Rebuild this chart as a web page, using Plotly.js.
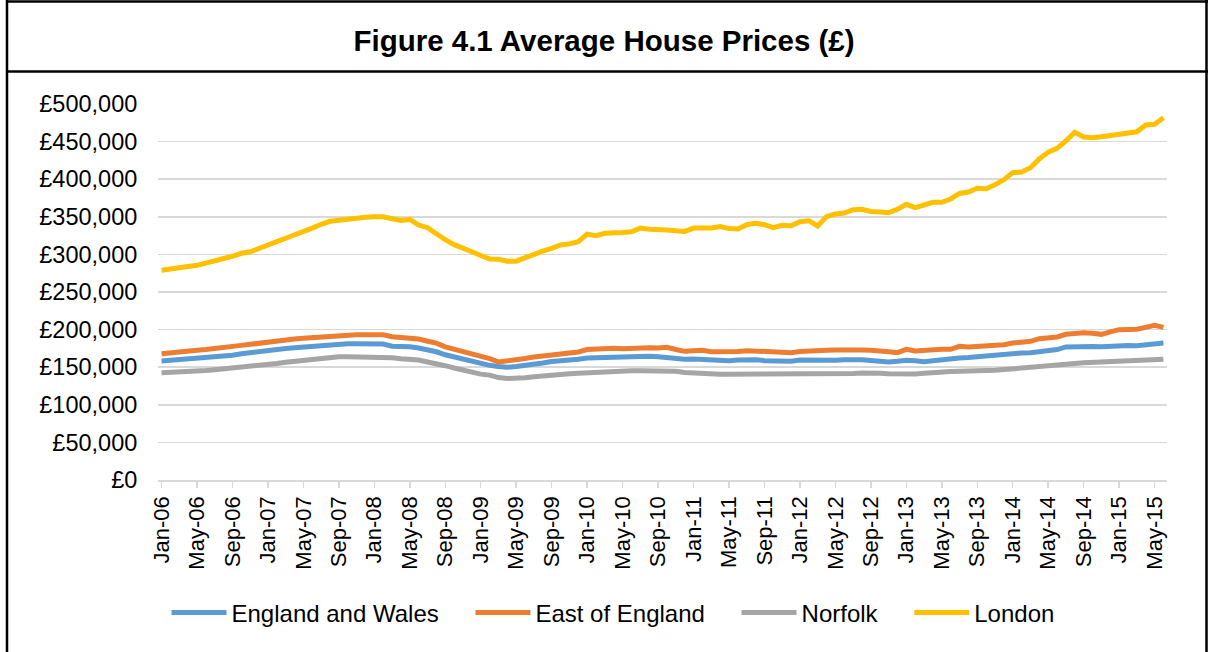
<!DOCTYPE html>
<html>
<head>
<meta charset="utf-8">
<script src="https://cdn.plot.ly/plotly-3.0.1.min.js"></script>
<style>
  html, body { margin: 0; padding: 0; background: #fff; }
  #chart { width: 1208px; height: 652px; }
</style>
</head>
<body>
<div id="chart"></div>
<script>
const months = [
  "Jan-06","Feb-06","Mar-06","Apr-06","May-06","Jun-06","Jul-06","Aug-06","Sep-06","Oct-06","Nov-06","Dec-06",
  "Jan-07","Feb-07","Mar-07","Apr-07","May-07","Jun-07","Jul-07","Aug-07","Sep-07","Oct-07","Nov-07","Dec-07",
  "Jan-08","Feb-08","Mar-08","Apr-08","May-08","Jun-08","Jul-08","Aug-08","Sep-08","Oct-08","Nov-08","Dec-08",
  "Jan-09","Feb-09","Mar-09","Apr-09","May-09","Jun-09","Jul-09","Aug-09","Sep-09","Oct-09","Nov-09","Dec-09",
  "Jan-10","Feb-10","Mar-10","Apr-10","May-10","Jun-10","Jul-10","Aug-10","Sep-10","Oct-10","Nov-10","Dec-10",
  "Jan-11","Feb-11","Mar-11","Apr-11","May-11","Jun-11","Jul-11","Aug-11","Sep-11","Oct-11","Nov-11","Dec-11",
  "Jan-12","Feb-12","Mar-12","Apr-12","May-12","Jun-12","Jul-12","Aug-12","Sep-12","Oct-12","Nov-12","Dec-12",
  "Jan-13","Feb-13","Mar-13","Apr-13","May-13","Jun-13","Jul-13","Aug-13","Sep-13","Oct-13","Nov-13","Dec-13",
  "Jan-14","Feb-14","Mar-14","Apr-14","May-14","Jun-14","Jul-14","Aug-14","Sep-14","Oct-14","Nov-14","Dec-14",
  "Jan-15","Feb-15","Mar-15","Apr-15","May-15","Jun-15"
];

const tickLabels = [
  "Jan-06","May-06","Sep-06","Jan-07","May-07","Sep-07","Jan-08","May-08","Sep-08",
  "Jan-09","May-09","Sep-09","Jan-10","May-10","Sep-10","Jan-11","May-11","Sep-11",
  "Jan-12","May-12","Sep-12","Jan-13","May-13","Sep-13","Jan-14","May-14","Sep-14",
  "Jan-15","May-15"
];

const seriesNames = ["England and Wales", "East of England", "Norfolk", "London"];

// values in £ thousands
const englandWales = [
  158.2,159,159.8,160.5,161.3,162.2,163.5,164.8,166,167.8,169.5,171,
  172.2,173.3,175,176,177,178.2,179,179.8,180.5,181.2,181.3,181.3,
  181.3,180.9,177.8,177.8,177.3,175.5,173.8,170.5,166.5,163.5,160,157.5,
  155,152.5,151,150,150.8,152,153.5,155.5,157.5,158,158.7,160.5,
  162.2,162.6,163.1,163.4,163.8,164.2,164.9,164.5,164,162.5,161,160.5,
  160.8,160.5,158.7,159,158.7,159.5,160.5,160,158.7,158.5,158,158,
  159.6,159.3,158.5,158.7,159.3,160,160.5,160,159,157.8,156.9,157.8,
  159.1,158.5,157.3,158.5,160,160.8,162.2,162.8,164,164,164.9,166.5,
  168.4,169,169.3,170.5,172,173.5,176.9,177.5,177.8,177.5,177.3,178.3,
  179.5,179,178.6,179.5,180.2,182.2
];

const eastOfEngland = [
  168,169.5,170.5,171.5,172.5,173.5,174.5,176,177.5,179,180.4,182,
  184,185,186.5,187.5,188.5,189.5,190.2,191,192.5,193.2,193.2,193.2,
  193.2,193,190.5,189.7,189.3,187.5,184.5,182,177,174,170,166.5,
  164,161.5,157,158,159.5,161.5,163.5,165,167,168,169.3,170.2,
  173.5,174,175.5,175.2,174.6,175.5,176.4,176,175.5,176.4,173.5,171.1,
  172,172.4,170.5,170.2,170.2,171,172,171.5,170.2,170,169.5,169.3,
  171,172,172.5,172.5,173,173.3,173.3,173,172.5,172,170.5,169.3,
  173.8,171.5,172.5,173.8,173.8,173.8,177.8,177,177.5,179.1,178.2,180,
  182.2,183.2,184.4,187.9,189,190.2,193.7,194.5,195.9,195,193.7,197,
  199.9,200.2,200.4,203,205.7,203
];

const norfolk = [
  142.7,143,143.3,143.6,144.5,145.5,146.5,147.5,148.7,150,151.2,152.5,
  153.8,155,156.5,157.8,159,160.5,162,163.2,164,164,164,164,
  164,164,162.5,161.3,160.8,159.5,157,155,152,148.9,146,142.3,
  140.8,139.5,136.2,135,134.8,136,137.3,138.6,139.7,140.5,141.4,142,
  142.7,143.6,144.5,145.4,145.4,145.4,145.4,145.4,145.4,145.4,144.5,143,
  142,141.4,140.6,140.5,140.5,140.5,140.5,140.6,140.8,141,141,141,
  141,141.2,141.3,141.4,140.5,141,141.7,142.2,142.7,142,141.4,141,
  141,141,142,143.2,143.7,144.3,144.6,144.6,145,145.4,145.9,146.8,
  147.6,148.5,149.5,150.5,151.7,152.9,153.8,154.8,156,156.5,156.9,156.9,
  156.9,157.5,158.7,159.5,160,160.5
];

const london = [
  279,281,283.5,284,285.5,288,291,294.5,297.5,301.5,303.5,307.5,
  312.5,317,321.5,325.5,330,335,340,344,345.5,347,349,349.5,
  350,350,347.5,345,346.5,339,335.5,327,319.5,313,307.5,303.5,
  298.5,294,293.5,291,291,296,300.5,304.5,308,312.5,314,317,
  327,325,328,328,329,330,335,333.5,333.8,332.5,331.5,330.5,
  335,334.8,335,336.9,334.3,333.8,339.5,341.3,339.5,335.6,338.6,338.2,
  343.5,344.8,337.8,350.2,353.7,355,359.5,360,357,356.5,355.5,360,
  366.6,362.2,366.6,369.3,369.3,373.7,381,383,387.9,387.4,392.7,399.3,
  408.7,409.6,415.3,426.9,436,441,451,462.4,456.1,455.2,456.5,458,
  460,461.5,463,472.1,473,481.8
];

const seriesValues = [englandWales, eastOfEngland, norfolk, london];
const seriesColors = ["#5B9BD5", "#ED7D31", "#A5A5A5", "#FFC000"];

const FONT = "Liberation Sans, Arial, sans-serif";
const LEGEND_PAD = "\u00A0\u00A0\u00A0\u00A0"; // extra spacing between legend entries

const traces = seriesNames.map((name, k) => ({
  type: "scatter",
  mode: "lines",
  name: k < seriesNames.length - 1 ? name + LEGEND_PAD : name,
  x: months,
  y: seriesValues[k].map(v => v * 1000),
  line: { color: seriesColors[k], width: 5, shape: "linear" },
  hoverinfo: "x+y+name"
}));

// frame helpers (pixel -> paper)
const L = 158, R = 41, T = 104, B = 172, W = 1208, H = 652;
const pw = W - L - R, ph = H - T - B;
const px = x => (x - L) / pw;
const py = y => (H - B - y) / ph;

const layout = {
  width: W,
  height: H,
  margin: { l: L, r: R, t: T, b: B, pad: 0 },
  paper_bgcolor: "#ffffff",
  plot_bgcolor: "#ffffff",
  font: { family: FONT, size: 22, color: "#000000" },
  title: {
    text: "<b>Figure 4.1 Average House Prices (£)</b>",
    font: { family: FONT, size: 29.5, color: "#000000" },
    x: 0.5, xref: "container", xanchor: "center",
    y: 1 - 41 / H, yref: "container", yanchor: "middle"
  },
  xaxis: {
    type: "category",
    range: [-0.4, 113.4],
    tickmode: "array",
    tickvals: tickLabels,
    ticktext: tickLabels,
    tickangle: -90,
    ticks: "outside",
    ticklen: 6,
    tickwidth: 1.5,
    tickcolor: "#D9D9D9",
    showline: true,
    linecolor: "#D9D9D9",
    linewidth: 1.5,
    showgrid: false,
    zeroline: false,
    tickfont: { family: FONT, size: 22, color: "#000000" },
    fixedrange: true
  },
  yaxis: {
    range: [0, 500000],
    tickmode: "linear",
    tick0: 0,
    dtick: 50000,
    tickprefix: "£",
    tickformat: ",.0f",
    showgrid: true,
    gridcolor: "#D9D9D9",
    gridwidth: 1.5,
    zeroline: false,
    showline: false,
    ticks: "outside",
    ticklen: 15,
    tickcolor: "rgba(0,0,0,0)",
    tickfont: { family: FONT, size: 23.5, color: "#000000" },
    fixedrange: true
  },
  showlegend: true,
  legend: {
    orientation: "h",
    x: px(613), xanchor: "center",
    y: py(613), yanchor: "middle",
    font: { family: FONT, size: 24, color: "#000000" },
    itemwidth: 55,
    tracegroupgap: 0,
    bgcolor: "rgba(0,0,0,0)"
  },
  shapes: [
    { type: "line", xref: "paper", yref: "paper", x0: px(7), x1: px(7), y0: py(0), y1: py(652), line: { color: "#000", width: 2.5 } },
    { type: "line", xref: "paper", yref: "paper", x0: px(1206.5), x1: px(1206.5), y0: py(0), y1: py(652), line: { color: "#000", width: 2.5 } },
    { type: "line", xref: "paper", yref: "paper", x0: px(6), x1: px(1208), y0: py(1.5), y1: py(1.5), line: { color: "#000", width: 2.5 } },
    { type: "line", xref: "paper", yref: "paper", x0: px(6), x1: px(1208), y0: py(71.5), y1: py(71.5), line: { color: "#000", width: 2.5 } }
  ]
};

Plotly.newPlot("chart", traces, layout, { displayModeBar: false, staticPlot: true });
</script>
</body>
</html>
